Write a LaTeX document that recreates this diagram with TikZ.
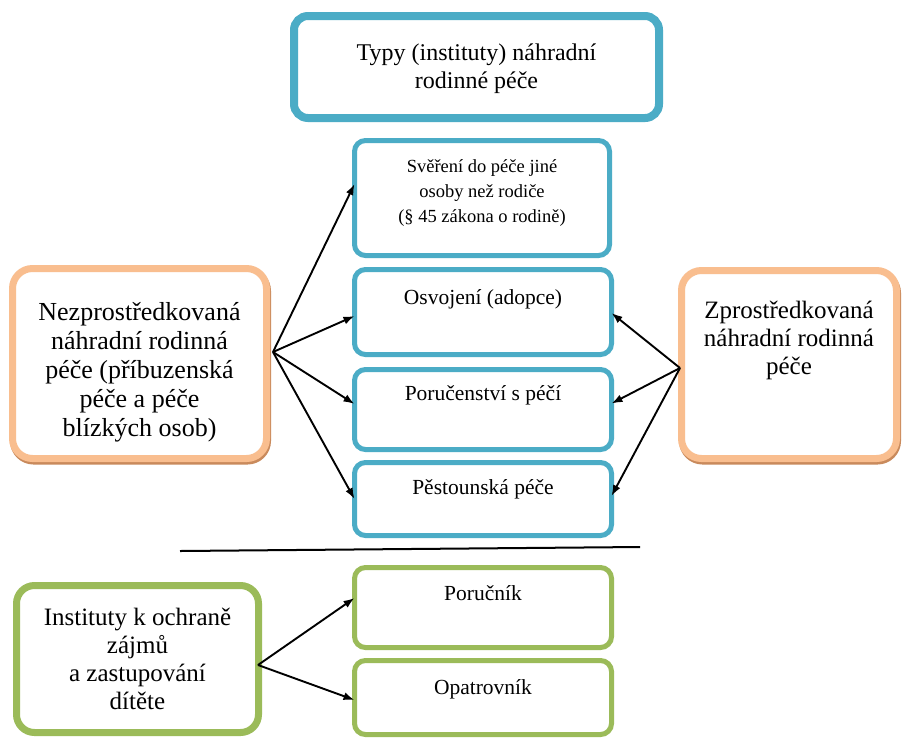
\documentclass[tikz,border=0pt]{standalone}
\usepackage{fontspec}
\setmainfont{Liberation Serif}
\usetikzlibrary{arrows.meta}
\definecolor{cblue}{HTML}{4BACC6}
\definecolor{corange}{HTML}{F9BE8F}
\definecolor{cshadow}{HTML}{C98A5C}
\definecolor{cgreen}{HTML}{9BBB59}
\begin{document}
\begin{tikzpicture}[x=1pt,y=-1pt,
  box/.style={draw, fill=white, rounded corners=#1, inner sep=0pt, outer sep=0pt},
  bluebig/.style={box=14pt, draw=cblue, line width=8pt},
  bluesmall/.style={box=11pt, draw=cblue, line width=5pt},
  greensmall/.style={box=11pt, draw=cgreen, line width=5pt},
  greenbig/.style={box=18pt, draw=cgreen, line width=7pt},
  orangebig/.style={box=20pt, draw=corange, line width=7pt,
     preaction={draw=cshadow, fill=cshadow, transform canvas={shift={(1pt,-2.5pt)}}}},
  txt/.style={align=center, inner sep=0pt},
  arr/.style={-{Latex[length=11pt,width=8pt]}, line width=1.9pt, black},
]
\useasboundingbox[fill=white] (0,0) rectangle (907,740);

% boxes
\node[bluebig, minimum width=365pt, minimum height=102pt] (top) at (476.5,67) {};
\node[bluesmall, minimum width=255pt, minimum height=115pt] (sv) at (482,198) {};
\node[bluesmall, minimum width=257pt, minimum height=85pt] (os) at (483,312) {};
\node[bluesmall, minimum width=257pt, minimum height=80pt] (po) at (483,409.5) {};
\node[bluesmall, minimum width=257pt, minimum height=73pt] (pe) at (483,499) {};
\node[greensmall, minimum width=257pt, minimum height=80pt] (pn) at (483,607.5) {};
\node[greensmall, minimum width=257pt, minimum height=74pt] (op) at (483,697.5) {};
\node[orangebig, minimum width=254pt, minimum height=190pt] (L) at (139.5,363.5) {};
\node[orangebig, minimum width=215pt, minimum height=188pt] (R) at (789,364.5) {};
\node[greenbig, minimum width=242pt, minimum height=147pt] (G) at (137.5,659) {};

% texts
\node[txt, font=\fontsize{24}{28}\selectfont] (ttop) at (476.5,69) {Typy (instituty) náhradní\\rodinné péče};
\node[txt, font=\fontsize{18.5}{25}\selectfont] (tsv) at (482,193) {Svěření do péče jiné\\osoby než rodiče\\(§ 45 zákona o rodině)};
\node[txt, anchor=base, font=\fontsize{21.5}{25}\selectfont] (tos) at (483,304) {Osvojení (adopce)};
\node[txt, anchor=base, font=\fontsize{21.5}{25}\selectfont] (tpo) at (483,400) {Poručenství s péčí};
\node[txt, anchor=base, font=\fontsize{21.5}{25}\selectfont] (tpe) at (483,494) {Pěstounská péče};
\node[txt, anchor=base, font=\fontsize{21.5}{25}\selectfont] (tpn) at (483,600) {Poručník};
\node[txt, anchor=base, font=\fontsize{21.5}{25}\selectfont] (top2) at (483,694) {Opatrovník};
\node[txt, font=\fontsize{26}{29}\selectfont] (tL) at (139.5,372) {Nezprostředkovaná\\náhradní rodinná\\péče (příbuzenská\\péče a péče\\blízkých osob)};
\node[txt, font=\fontsize{25}{28}\selectfont] (tR) at (789,340) {Zprostředkovaná\\náhradní rodinná\\péče};
\node[txt, font=\fontsize{25}{28}\selectfont] (tG) at (137.5,659) {Instituty k ochraně\\zájmů\\a zastupování\\dítěte};

% separator
\coordinate (s1) at (180,551);
\coordinate (s2) at (640,547);
\draw[line width=2pt] (s1) -- (s2);

% arrows
\coordinate (ls) at (273,352);
\coordinate (rs) at (680,368);
\coordinate (gs) at (258,665);
\draw[arr] (ls) -- ([yshift=14pt]sv.west);
\draw[arr] (ls) -- ([yshift=-4pt]os.west);
\draw[arr] (ls) -- ([yshift=5.5pt]po.west);
\draw[arr] (ls) -- (pe.west);
\draw[arr] (rs) -- ([yshift=-1pt]os.east);
\draw[arr] (rs) -- ([yshift=6pt]po.east);
\draw[arr] (rs) -- ([yshift=3pt]pe.east);
\draw[arr] (gs) -- ([yshift=9.5pt]pn.west);
\draw[arr] (gs) -- ([yshift=-2.5pt]op.west);
\end{tikzpicture}
\end{document}
